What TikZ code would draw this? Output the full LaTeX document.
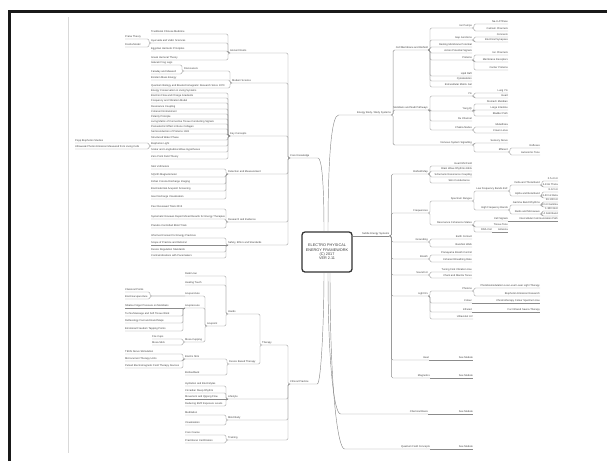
\documentclass[tikz,border=0pt]{standalone}
\usepackage{fontspec}
\setmainfont{Liberation Sans}
\tikzset{
  lbl/.style={font=\fontsize{2.6}{3}\selectfont, text=black!75, inner xsep=0pt, inner ysep=0.35pt, text height=1.9pt, text depth=0.5pt},
  mmr/.style={lbl, anchor=south east},
  mml/.style={lbl, anchor=south west},
  br/.style={draw=black!45, line width=0.45pt, rounded corners=1.4pt},
  rootbox/.style={draw=black!80, line width=1.3pt, rounded corners=3pt, fill=white, minimum width=50pt, minimum height=40pt, align=center, text=black!75, font=\fontsize{3.8}{4.3}\selectfont, inner sep=0pt}
}
\newcommand\mmR[4]{\node[mmr] (#1) at (#2,#3) {#4};}
\newcommand\mmL[4]{\node[mml] (#1) at (#2,#3) {#4};}
\newcommand\mmRe[2]{\draw[br] (#1.south east) -- ++(2,0) |- (#2.south east);}
\newcommand\mmLe[2]{\draw[br] (#1.south west) -- ++(-2,0) |- (#2.south west);}
\newcommand\mmLeX[3]{\draw[br] (#1.south west) -- ++(#3,0) |- (#2.south west);}
\newcommand\mmRs[2]{\draw[br] (#1.south east) -- (#2.south east);}
\newcommand\mmLs[2]{\draw[br] (#1.south west) -- (#2.south west);}
\begin{document}
\begin{tikzpicture}[x=1pt,y=-1pt]
\useasboundingbox (0,0) rectangle (607,461);
% page frame
\draw[line width=2.6pt, black!90] (9.3,461) -- (9.3,11.3) -- (607,11.3);
\draw[black!15, line width=0.7pt] (68,17) -- (68,453);
% root
\node[rootbox] (root) at (327,252) {ELECTRO PHYSICAL\\ENERGY FRAMEWORK\\(C) 2017\\VER 2.11};

% ---------------- right: branch 1
\mmL{r1}{357}{115}{Energy Body / Body Systems}
\mmR{r1a}{428}{50}{Cell Membrane and Biofield}
\mmR{r1b}{428}{110}{Meridians and Nadi Pathways}
\mmR{r1c}{472}{145}{Nervous System Signalling}
\mmR{r1a1}{472}{28}{Ion Pumps}
\mmR{r1a1a}{508}{24}{Na-K ATPase}
\mmR{r1a1b}{508}{31}{Calcium Channels}
\mmR{r1a2}{472}{40}{Gap Junctions}
\mmR{r1a2a}{508}{37}{Connexin}
\mmR{r1a2b}{508}{42}{Electrical Synapses}
\mmR{r1a3}{472}{47}{Resting Membrane Potential}
\mmR{r1a4}{472}{53}{Action Potential Signals}
\mmR{r1a5}{472}{60}{Proteins}
\mmR{r1a5a}{508}{55}{Ion Channels}
\mmR{r1a5b}{508}{62}{Membrane Receptors}
\mmR{r1a5c}{508}{70}{Carrier Proteins}
\mmR{r1a6}{472}{76}{Lipid Raft}
\mmR{r1a7}{472}{81}{Cytoskeleton}
\mmR{r1a8}{472}{87}{Extracellular Matrix Gel}
\mmR{r1b1}{472}{96}{Yin}
\mmR{r1b1a}{508}{93}{Lung Yin}
\mmR{r1b1b}{508}{98}{Heart}
\mmR{r1b2}{472}{111}{Yang Qi}
\mmR{r1b2a}{508}{104}{Stomach Meridian}
\mmR{r1b2b}{508}{110}{Large Intestine}
\mmR{r1b2c}{508}{116}{Bladder Path}
\mmR{r1b3}{472}{121}{Du Channel}
\mmR{r1b4}{472}{130}{Chakra Nodes}
\mmR{r1b4a}{508}{127}{Muladhara}
\mmR{r1b4b}{508}{133}{Crown Lotus}
\mmR{r1c1}{508}{143}{Sensory Nerve}
\mmR{r1c2}{508}{152}{Efferent}
\mmR{r1c2a}{540}{148}{Reflexes}
\mmR{r1c2b}{540}{155}{Autonomic Tone}

\mmRe{r1}{r1a}\mmRe{r1}{r1b}\mmRe{r1}{r1c}
\mmRe{r1a}{r1a1}\mmRe{r1a}{r1a2}\mmRe{r1a}{r1a3}\mmRe{r1a}{r1a4}
\mmRe{r1a}{r1a5}\mmRe{r1a}{r1a6}\mmRe{r1a}{r1a7}\mmRe{r1a}{r1a8}
\mmRe{r1a1}{r1a1a}\mmRe{r1a1}{r1a1b}
\mmRe{r1a2}{r1a2a}\mmRe{r1a2}{r1a2b}
\mmRe{r1a5}{r1a5a}\mmRe{r1a5}{r1a5b}\mmRe{r1a5}{r1a5c}
\mmRe{r1b}{r1b1}\mmRe{r1b}{r1b2}\mmRe{r1b}{r1b3}\mmRe{r1b}{r1b4}
\mmRe{r1b1}{r1b1a}\mmRe{r1b1}{r1b1b}
\mmRe{r1b2}{r1b2a}\mmRe{r1b2}{r1b2b}\mmRe{r1b2}{r1b2c}
\mmRe{r1b4}{r1b4a}\mmRe{r1b4}{r1b4b}
\mmRe{r1c}{r1c1}\mmRe{r1c}{r1c2}
\mmRe{r1c2}{r1c2a}\mmRe{r1c2}{r1c2b}

% ---------------- right: branch 2
\mmL{r2}{362}{236}{Subtle Energy Systems}
\mmR{r2a}{428}{174}{Biofield Map}
\mmR{r2a1}{472}{166}{Heart EM Field}
\mmR{r2a2}{472}{171}{Brain Wave Rhythms EEG}
\mmR{r2a3}{472}{177}{Schumann Resonance Coupling}
\mmR{r2a4}{470}{183}{Skin Conductance}
\mmR{r2b}{428}{213}{Frequencies}
\mmR{r2b1}{472}{201}{Spectrum Ranges}
\mmR{r2b1a}{508}{191}{Low Frequency Bands ELF}
\mmR{r2b1a1}{540}{185}{Delta and Theta Band}
\mmR{r2b1a1a}{558}{181}{0.5-4 Hz}
\mmR{r2b1a1b}{558}{187}{4-8 Hz Theta}
\mmR{r2b1a2}{540}{196}{Alpha and Beta Band}
\mmR{r2b1a2a}{558}{192}{8-12 Hz}
\mmR{r2b1a2b}{558}{198}{13-30 Hz Beta}
\mmR{r2b1b}{508}{210}{High Frequency Bands}
\mmR{r2b1b1}{540}{205}{Gamma Band Rhythms}
\mmR{r2b1b1a}{558}{202}{30-100 Hz}
\mmR{r2b1b1b}{558}{207}{40 Hz Gamma}
\mmR{r2b1b2}{540}{214}{Radio and Microwave}
\mmR{r2b1b2a}{558}{211}{1-300 GHz}
\mmR{r2b1b2b}{558}{216}{2.4 GHz Band}
\mmR{r2b2}{472}{225}{Resonance Coherence States}
\mmR{r2b2a}{508}{221}{Cell Signals}
\mmR{r2b2a1}{558}{221}{Intercellular Communication Path}
\mmR{r2b2b}{508}{227}{Tissue Tone}
\mmR{r2b2c}{492}{232}{DNA Coil}
\mmR{r2b2c1}{508}{232}{Antenna}
\mmR{r2c}{428}{242}{Grounding}
\mmR{r2c1}{472}{239}{Earth Contact}
\mmR{r2c2}{472}{247}{Barefoot Walk}
\mmR{r2d}{428}{259}{Breath}
\mmR{r2d1}{472}{255}{Pranayama Breath Control}
\mmR{r2d2}{472}{262}{Coherent Breathing Rate}
\mmR{r2e}{428}{275}{Sound Hz}
\mmR{r2e1}{472}{272}{Tuning Fork Vibration Use}
\mmR{r2e2}{472}{278}{Chant and Mantra Tones}
\mmR{r2f}{428}{296}{Light Rx}
\mmR{r2f1}{472}{291}{Photons}
\mmR{r2f1a}{540}{288}{Photobiomodulation Low Level Laser Light Therapy}
\mmR{r2f1b}{540}{296}{Biophoton Emission Research}
\mmR{r2f2}{472}{303}{Colour}
\mmR{r2f2a}{540}{303}{Chromotherapy Colour Spectrum Use}
\mmR{r2f3}{472}{312}{Infrared}
\mmR{r2f3a}{540}{312}{Far Infrared Sauna Therapy}
\mmR{r2f4}{473}{319}{Ultraviolet UV}
\mmR{r2g}{429}{360}{Heat}
\mmR{r2g1}{473}{360}{See Module}
\mmR{r2h}{430}{378}{Magnetics}
\mmR{r2h1}{473}{378}{See Module}

\mmRe{r2}{r2a}\mmRe{r2}{r2b}\mmRe{r2}{r2c}\mmRe{r2}{r2d}
\mmRe{r2}{r2e}\mmRe{r2}{r2f}\mmRe{r2}{r2g}\mmRe{r2}{r2h}
\mmRe{r2a}{r2a1}\mmRe{r2a}{r2a2}\mmRe{r2a}{r2a3}\mmRe{r2a}{r2a4}
\mmRe{r2b}{r2b1}\mmRe{r2b}{r2b2}
\mmRe{r2b1}{r2b1a}\mmRe{r2b1}{r2b1b}
\mmRe{r2b1a}{r2b1a1}\mmRe{r2b1a}{r2b1a2}
\mmRe{r2b1a1}{r2b1a1a}\mmRe{r2b1a1}{r2b1a1b}
\mmRe{r2b1a2}{r2b1a2a}\mmRe{r2b1a2}{r2b1a2b}
\mmRe{r2b1b}{r2b1b1}\mmRe{r2b1b}{r2b1b2}
\mmRe{r2b1b1}{r2b1b1a}\mmRe{r2b1b1}{r2b1b1b}
\mmRe{r2b1b2}{r2b1b2a}\mmRe{r2b1b2}{r2b1b2b}
\mmRe{r2b2}{r2b2a}\mmRe{r2b2}{r2b2b}\mmRe{r2b2}{r2b2c}
\mmRs{r2b2a}{r2b2a1}\mmRs{r2b2c}{r2b2c1}
\mmRe{r2c}{r2c1}\mmRe{r2c}{r2c2}
\mmRe{r2d}{r2d1}\mmRe{r2d}{r2d2}
\mmRe{r2e}{r2e1}\mmRe{r2e}{r2e2}
\mmRe{r2f}{r2f1}\mmRe{r2f}{r2f2}\mmRe{r2f}{r2f3}\mmRe{r2f}{r2f4}
\mmRe{r2f1}{r2f1a}\mmRe{r2f1}{r2f1b}
\mmRs{r2f2}{r2f2a}\mmRs{r2f3}{r2f3a}
\mmRs{r2g}{r2g1}\mmRs{r2h}{r2h1}

% ---------------- right: branches 3 and 4
\mmR{r3}{428}{414}{Chemical Basis}
\mmR{r31}{473}{414}{See Module}
\mmR{r4}{430}{449}{Quantum Field Concepts}
\mmR{r41}{473}{449}{See Module}
\mmRs{r3}{r31}\mmRs{r4}{r41}

% ---------------- left: upper branch
\mmL{L}{290}{158}{Core Knowledge}
\mmL{l1}{230}{53}{Ancient Roots}
\mmL{l1a}{151}{34}{Traditional Chinese Medicine}
\mmL{l1b}{151}{43}{Ayurveda and Vedic Sciences}
\mmL{l1ba}{125}{39}{Prana Theory}
\mmL{l1bb}{125}{47}{Dosha Model}
\mmL{l1c}{151}{51}{Egyptian Hermetic Principles}
\mmL{l1d}{151}{60}{Greek Humoral Theory}
\mmL{l2}{232}{83}{Modern Science}
\mmL{l2a}{184}{71}{Discoverers}
\mmL{l2a1}{151}{65}{Galvani Frog Legs}
\mmL{l2a2}{151}{74}{Faraday and Maxwell}
\mmL{l2b}{151}{80}{Einstein Mass Energy}
\mmL{l2c}{151}{88}{Quantum Biology and Bioelectromagnetic Research Since 1970}
\mmL{l3}{230}{136}{Key Concepts}
\mmL{l3a}{151}{93}{Energy Conservation in Living Systems}
\mmL{l3b}{151}{98}{Electron Flow and Charge Gradients}
\mmL{l3c}{151}{103}{Frequency and Vibration Model}
\mmL{l3d}{151}{109}{Resonance Coupling}
\mmL{l3e}{151}{114}{Coherent Entrainment}
\mmL{l3f}{151}{119}{Polarity Principle}
\mmL{l3g}{151}{124}{Living Matrix of Connective Tissue Conducting Signals}
\mmL{l3h}{151}{129}{Piezoelectric Effect in Bone Collagen}
\mmL{l3i}{151}{134}{Semiconduction of Proteins 1941}
\mmL{l3j}{151}{140}{Structured Water Phase}
\mmL{l3k}{151}{146}{Biophoton Light}
\mmL{l3ka}{75}{143}{Popp Biophoton Studies}
\mmL{l3kb}{75}{149}{Ultraweak Photon Emission Measured from Living Cells}
\mmL{l3l}{151}{152}{Scalar and Longitudinal Wave Hypotheses}
\mmL{l3m}{151}{159}{Zero Point Field Theory}
\mmL{l4}{228}{174}{Detection and Measurement}
\mmL{l4a}{151}{169}{Skin Voltmeters}
\mmL{l4b}{151}{177}{SQUID Magnetometer}
\mmL{l4c}{151}{184}{Kirlian Corona Discharge Imaging}
\mmL{l4d}{151}{191}{Electrodermal Acupoint Screening}
\mmL{l4e}{151}{199}{Gas Discharge Visualisation}
\mmL{l5}{228}{222}{Research and Evidence}
\mmL{l5a}{151}{209}{Peer Reviewed Trials 2015}
\mmL{l5b}{151}{219}{Systematic Reviews Report Mixed Results for Energy Therapies}
\mmL{l5c}{151}{228}{Placebo Controlled Blind Trials}
\mmL{l6}{228}{245}{Safety, Ethics and Standards}
\mmL{l6a}{151}{238}{Informed Consent for Energy Practices}
\mmL{l6b}{151}{245}{Scope of Practice and Referral}
\mmL{l6c}{151}{252}{Device Regulation Standards}
\mmL{l6d}{151}{258}{Contraindications with Pacemakers}

\mmLe{L}{l1}\mmLe{L}{l2}\mmLe{L}{l3}\mmLe{L}{l4}\mmLe{L}{l5}\mmLe{L}{l6}
\mmLe{l1}{l1a}\mmLe{l1}{l1b}\mmLe{l1}{l1c}\mmLe{l1}{l1d}
\mmLe{l1b}{l1ba}\mmLe{l1b}{l1bb}
\mmLe{l2}{l2a}\mmLe{l2}{l2b}\mmLe{l2}{l2c}
\mmLe{l2a}{l2a1}\mmLe{l2a}{l2a2}
\mmLe{l3}{l3a}\mmLe{l3}{l3b}\mmLe{l3}{l3c}\mmLe{l3}{l3d}\mmLe{l3}{l3e}
\mmLe{l3}{l3f}\mmLe{l3}{l3g}\mmLe{l3}{l3h}\mmLe{l3}{l3i}\mmLe{l3}{l3j}
\mmLe{l3}{l3k}\mmLe{l3}{l3l}\mmLe{l3}{l3m}
\mmLe{l3k}{l3ka}\mmLe{l3k}{l3kb}
\mmLe{l4}{l4a}\mmLe{l4}{l4b}\mmLe{l4}{l4c}\mmLe{l4}{l4d}\mmLe{l4}{l4e}
\mmLe{l5}{l5a}\mmLe{l5}{l5b}\mmLe{l5}{l5c}
\mmLe{l6}{l6a}\mmLs{l6}{l6b}\mmLe{l6}{l6c}\mmLe{l6}{l6d}

% ---------------- left: lower branch
\mmL{LB}{290}{384}{Clinical Practice}
\mmL{lA}{262}{345}{Therapy}
\mmL{lA1}{228}{314}{Hands}
\mmL{lA1a}{185}{276}{Reiki Usui}
\mmL{lA1b}{185}{285}{Healing Touch}
\mmL{lA1c}{207}{326}{Acupoint}
\mmL{lA1c1}{185}{296}{Acupuncture}
\mmL{lA1c1a}{125}{292}{Classical Points}
\mmL{lA1c1b}{125}{299}{Electroacupuncture}
\mmL{lA1c2}{185}{308}{Acupressure}
\mmL{lA1c2a}{125}{308}{Shiatsu Finger Pressure on Meridians}
\mmL{lA1c2b}{125}{316}{Tui Na Massage and Soft Tissue Work}
\mmL{lA1c2c}{125}{323}{Reflexology Foot and Hand Maps}
\mmL{lA1c2d}{125}{331}{Emotional Freedom Tapping Points}
\mmL{lA1c3}{185}{342}{Moxa Cupping}
\mmL{lA1c3a}{152}{339}{Fire Cups}
\mmL{lA1c3b}{152}{345}{Moxa Stick}
\mmL{lA2}{229}{364}{Device Based Therapy}
\mmL{lA2a}{185}{359}{Electro Stim}
\mmL{lA2a1}{125}{354}{TENS Nerve Stimulation}
\mmL{lA2a2}{125}{361}{Microcurrent Therapy Units}
\mmL{lA2a3}{125}{368}{Pulsed Electromagnetic Field Therapy Devices}
\mmL{lA2b}{185}{375}{Biofeedback}
\mmL{lB}{228}{399}{Lifestyle}
\mmL{lB1}{185}{386}{Hydration and Electrolytes}
\mmL{lB2}{185}{393}{Circadian Sleep Rhythm}
\mmL{lB3}{185}{399}{Movement and Qigong Flow}
\mmL{lB4}{185}{406}{Reducing EMF Exposure Levels}
\mmL{lC}{228}{420}{Mind Body}
\mmL{lC1}{185}{415}{Meditation}
\mmL{lC2}{185}{425}{Visualisation}
\mmL{lD}{228}{440}{Training}
\mmL{lD1}{185}{435}{Core Course}
\mmL{lD2}{185}{443}{Practitioner Certification}

\mmLe{LB}{lA}\mmLe{LB}{lB}\mmLe{LB}{lC}\mmLe{LB}{lD}
\mmLe{lA}{lA1}\mmLe{lA}{lA2}
\mmLe{lA1}{lA1a}\mmLe{lA1}{lA1b}\mmLe{lA1}{lA1c}
\mmLe{lA1c}{lA1c1}\mmLe{lA1c}{lA1c2}\mmLe{lA1c}{lA1c3}
\mmLeX{lA1c1}{lA1c1a}{-35}\mmLeX{lA1c1}{lA1c1b}{-35}
\mmLs{lA1c2}{lA1c2a}\mmLe{lA1c2}{lA1c2b}\mmLe{lA1c2}{lA1c2c}\mmLe{lA1c2}{lA1c2d}
\mmLe{lA1c3}{lA1c3a}\mmLe{lA1c3}{lA1c3b}
\mmLe{lA2}{lA2a}\mmLe{lA2}{lA2b}
\mmLe{lA2a}{lA2a1}\mmLe{lA2a}{lA2a2}\mmLe{lA2a}{lA2a3}
\mmLe{lB}{lB1}\mmLe{lB}{lB2}\mmLs{lB}{lB3}\mmLe{lB}{lB4}
\mmLe{lC}{lC1}\mmLe{lC}{lC2}
\mmLe{lD}{lD1}\mmLe{lD}{lD2}

% ---------------- connectors from the central topic
\draw[br] (L.south west) -- (L.south east) -- ++(7,0) .. controls +(5,0) and +(0,-50) .. ([xshift=-3pt]root.north);
\draw[br] ([xshift=1pt]root.north) .. controls +(0,-80) and +(-8,0) .. (340,115) -- (r1.south east);
\draw[br] (root.east |- r2.south west) -- (r2.south east);
\draw[br] (LB.south west) -- (LB.south east) -- ++(7,0) .. controls +(5,0) and +(0,50) .. ([xshift=-3pt]root.south);
\draw[br] ([xshift=1pt]root.south) .. controls +(0,90) and +(-8,0) .. (342,414) -- (r3.south east);
\draw[br] ([xshift=3pt]root.south) .. controls +(0,120) and +(-8,0) .. (346,449) -- (r4.south east);
\end{tikzpicture}
\end{document}
